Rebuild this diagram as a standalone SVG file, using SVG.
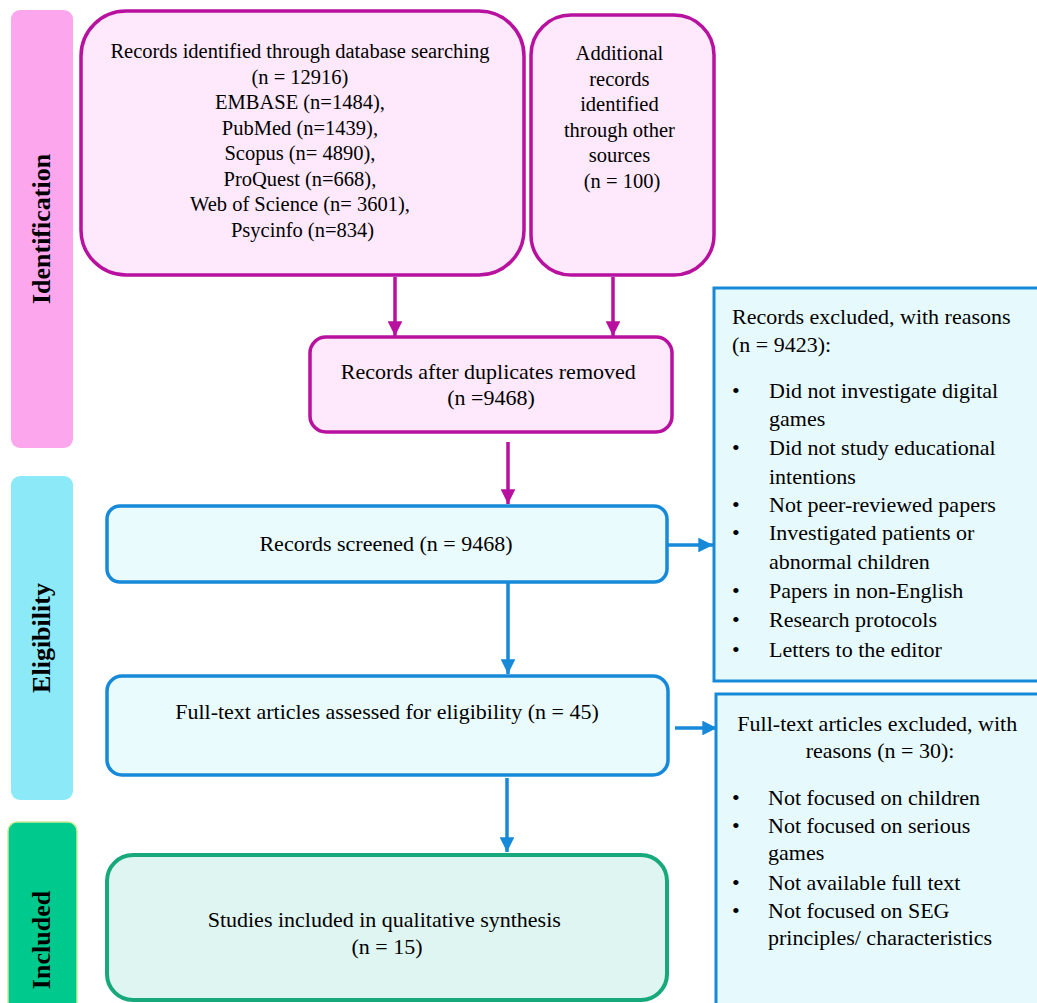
<svg xmlns="http://www.w3.org/2000/svg" width="1037" height="1003" viewBox="0 0 1037 1003">
<style>
text{font-family:"Liberation Serif","Times New Roman",serif;fill:#000}
.t20{font-size:20.5px}
.t22{font-size:22px}
.lbl{font-size:26px;font-weight:bold}
.mag{fill:#fde9fb;stroke:#b8109f;stroke-width:3.5}
.blu{fill:#e9fbfd;stroke:#1689d8;stroke-width:3.5}
.side{fill:#e6fafd;stroke:#1689d8;stroke-width:3}
.grn{fill:#dff5f1;stroke:#17a97c;stroke-width:4}
.cm{stroke:#b8109f;stroke-width:3.5;fill:none}
.cb{stroke:#1689d8;stroke-width:3.5;fill:none}
</style>
<defs>
<marker id="am" viewBox="0 0 10 10" refX="10" refY="5" markerWidth="4.2" markerHeight="4.2" orient="auto" markerUnits="strokeWidth"><path d="M0,0 L10,5 L0,10 z" fill="#b8109f"/></marker>
<marker id="ab" viewBox="0 0 10 10" refX="10" refY="5" markerWidth="4.2" markerHeight="4.2" orient="auto" markerUnits="strokeWidth"><path d="M0,0 L10,5 L0,10 z" fill="#1689d8"/></marker>
</defs>
<rect width="1037" height="1003" fill="#fff"/>

<g id="phase-identification">
<rect x="11" y="10" width="62" height="438" rx="9" fill="#fca6ee"/>
<text class="lbl" transform="translate(50,229) rotate(-90)" text-anchor="middle">Identification</text>
</g>
<g id="phase-eligibility">
<rect x="11" y="476" width="62" height="324" rx="9" fill="#8ce9f8"/>
<text class="lbl" transform="translate(50,638) rotate(-90)" text-anchor="middle">Eligibility</text>
</g>
<g id="phase-included">
<rect x="8" y="822" width="69" height="190" rx="9" fill="#00c98e" stroke="#c8ec9a" stroke-width="1.5"/>
<text class="lbl" transform="translate(50,940) rotate(-90)" text-anchor="middle">Included</text>
</g>

<g id="connectors">
<line class="cm" x1="395" y1="277" x2="395" y2="336" marker-end="url(#am)"/>
<line class="cm" x1="613" y1="277" x2="613" y2="336" marker-end="url(#am)"/>
<line class="cm" x1="508" y1="442" x2="508" y2="504" marker-end="url(#am)"/>
<line class="cb" x1="508" y1="583" x2="508" y2="674" marker-end="url(#ab)"/>
<line class="cb" x1="507" y1="778" x2="507" y2="852" marker-end="url(#ab)"/>
<line class="cb" x1="668" y1="545" x2="713" y2="545" marker-end="url(#ab)"/>
<line class="cb" x1="675" y1="728" x2="717" y2="728" marker-end="url(#ab)"/>
</g>

<g id="node-db">
<rect class="mag" x="81" y="11" width="443" height="264" rx="45"/>
<text class="t20" text-anchor="middle" x="302.5">
<tspan x="302.5" y="58">Records identified through database searching</tspan>
<tspan x="302.5" y="83.5">(n = 12916)</tspan>
<tspan x="302.5" y="109">EMBASE (n=1484),</tspan>
<tspan x="302.5" y="134.5">PubMed (n=1439),</tspan>
<tspan x="302.5" y="160">Scopus (n= 4890),</tspan>
<tspan x="302.5" y="185.5">ProQuest (n=668),</tspan>
<tspan x="302.5" y="211">Web of Science (n= 3601),</tspan>
<tspan x="302.5" y="236.5">Psycinfo (n=834)</tspan>
</text>
</g>

<g id="node-other">
<rect class="mag" x="531" y="15" width="183" height="260" rx="40"/>
<text class="t20" text-anchor="middle">
<tspan x="622" y="60">Additional</tspan>
<tspan x="622" y="85.5">records</tspan>
<tspan x="622" y="111">identified</tspan>
<tspan x="622" y="136.5">through other</tspan>
<tspan x="622" y="162">sources</tspan>
<tspan x="622" y="187.5">(n = 100)</tspan>
</text>
</g>

<g id="node-dedup">
<rect class="mag" x="310" y="337" width="362" height="95" rx="16"/>
<text class="t22" text-anchor="middle">
<tspan x="491" y="379">Records after duplicates removed</tspan>
<tspan x="491" y="405">(n =9468)</tspan>
</text>
</g>

<g id="node-screened">
<rect class="blu" x="107" y="506" width="560" height="76" rx="13"/>
<text class="t22" text-anchor="middle" x="386" y="551">Records screened (n = 9468)</text>
</g>

<g id="node-fulltext">
<rect class="blu" x="107" y="676" width="561" height="99" rx="15"/>
<text class="t22" text-anchor="middle" x="387" y="719">Full-text articles assessed for eligibility (n = 45)</text>
</g>

<g id="node-included">
<rect class="grn" x="107" y="855" width="560" height="145" rx="26"/>
<text class="t22" text-anchor="middle">
<tspan x="387" y="927">Studies included in qualitative synthesis</tspan>
<tspan x="387" y="954">(n = 15)</tspan>
</text>
</g>

<g id="node-excluded1">
<rect class="side" x="714" y="288" width="330" height="393"/>
<text class="t22">
<tspan x="732" y="324">Records excluded, with reasons</tspan>
<tspan x="732" y="352">(n = 9423):</tspan>
</text>
<g class="t22">
<text x="732" y="398">•</text><text x="769" y="398">Did not investigate digital</text>
<text x="769" y="426">games</text>
<text x="732" y="455">•</text><text x="769" y="455">Did not study educational</text>
<text x="769" y="484">intentions</text>
<text x="732" y="512">•</text><text x="769" y="512">Not peer-reviewed papers</text>
<text x="732" y="540">•</text><text x="769" y="540">Investigated patients or</text>
<text x="769" y="569">abnormal children</text>
<text x="732" y="598">•</text><text x="769" y="598">Papers in non-English</text>
<text x="732" y="627">•</text><text x="769" y="627">Research protocols</text>
<text x="732" y="657">•</text><text x="769" y="657">Letters to the editor</text>
</g>
</g>

<g id="node-excluded2">
<rect class="side" x="716" y="694" width="330" height="320"/>
<text class="t22" text-anchor="middle">
<tspan x="880" y="731">Full-text articles excluded, with</tspan>
<tspan x="880" y="758">reasons (n = 30):</tspan>
</text>
<g class="t22">
<text x="732" y="805">•</text><text x="768" y="805">Not focused on children</text>
<text x="732" y="833">•</text><text x="768" y="833">Not focused on serious</text>
<text x="768" y="860">games</text>
<text x="732" y="890">•</text><text x="768" y="890">Not available full text</text>
<text x="732" y="918">•</text><text x="768" y="918">Not focused on SEG</text>
<text x="768" y="945">principles/ characteristics</text>
</g>
</g>
</svg>
